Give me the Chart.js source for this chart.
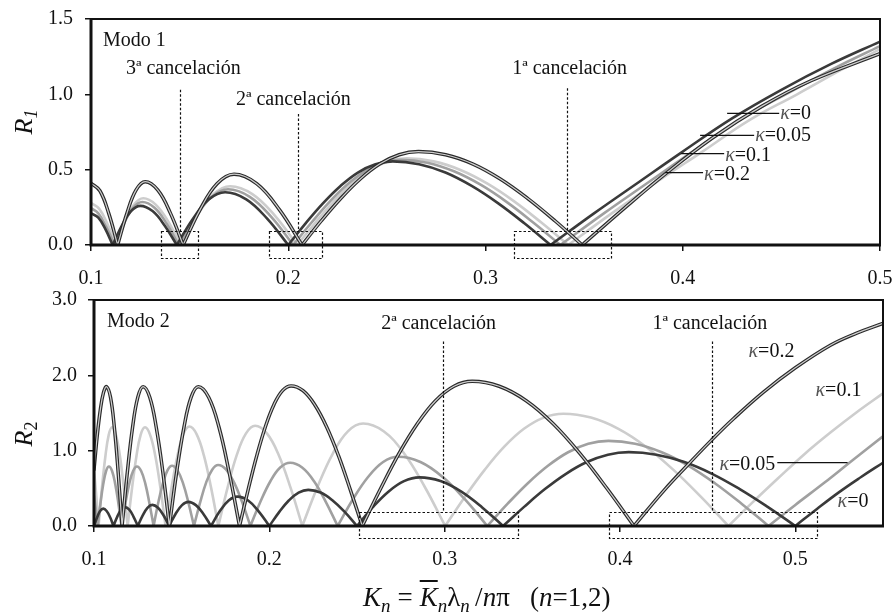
<!DOCTYPE html>
<html>
<head>
<meta charset="utf-8">
<script src="https://cdn.jsdelivr.net/npm/chart.js@4.4.0/dist/chart.umd.min.js"></script>
<style>
  body { margin: 0; background: #fff; }
  #wrap { position: relative; width: 893px; height: 614px; font-family: 'Liberation Serif', 'Times New Roman', serif; color: #111; }
  canvas { position: absolute; left: 0; }
  #c1 { top: 0; }
  #c2 { top: 280px; }
  .ytitle { position: absolute; width: 60px; height: 30px; line-height: 30px; text-align: center; font-size: 26px; transform: rotate(-90deg); white-space: nowrap; }
  .xtitle { position: absolute; left: 363px; top: 584px; font-size: 27px; line-height: 27px; white-space: nowrap; }
  .xtitle .eq { margin: 0 7px; }
  sub { font-size: 0.7em; vertical-align: -0.3em; line-height: 0; }
</style>
</head>
<body>
<div id="wrap">
  <canvas id="c1" width="893" height="300"></canvas>
  <canvas id="c2" width="893" height="334"></canvas>
  <div class="ytitle" style="left:-6px;top:107px"><i>R</i><sub><i>1</i></sub></div>
  <div class="ytitle" style="left:-6px;top:419px"><i>R</i><sub>2</sub></div>
  <div class="xtitle"><i>K</i><sub><i>n</i></sub><span class="eq">=</span><i style="text-decoration:overline">K</i><sub><i>n</i></sub>λ<sub><i>n</i></sub>&thinsp;/<i>n</i>π&nbsp;&nbsp;&nbsp;(<i>n</i>=1,2)</div>
</div>
<script>
// Modo 1: cada serie es una lista de lóbulos [K, R]
const modo1K0 = [
  [[0.1,0.21],[0.1037,0.182],[0.1073,0.105],[0.111,0]],
  [[0.111,0],[0.1157,0.13],[0.1203,0.225],[0.125,0.26],[0.1312,0.225],[0.1373,0.13],[0.1435,0]],
  [[0.1435,0],[0.1517,0.175],[0.1598,0.303],[0.168,0.35],[0.1787,0.303],[0.1893,0.175],[0.2,0]],
  [[0.2,0],[0.2088,0.144],[0.2177,0.278],[0.2265,0.392],[0.2353,0.481],[0.2442,0.536],[0.253,0.555],[0.2663,0.536],[0.2797,0.481],[0.293,0.392],[0.3063,0.278],[0.3197,0.144],[0.333,0]],
  [[0.333,0],[0.355,0.21],[0.378,0.42],[0.4,0.62],[0.425,0.84],[0.45,1.03],[0.475,1.2],[0.5,1.35]]
];
const modo1K005 = [
  [[0.1,0.245],[0.1037,0.21],[0.1077,0.12],[0.112,0]],
  [[0.112,0],[0.1167,0.143],[0.1213,0.247],[0.126,0.285],[0.1322,0.247],[0.1383,0.143],[0.1445,0]],
  [[0.1445,0],[0.1528,0.185],[0.1612,0.32],[0.1695,0.37],[0.1805,0.32],[0.1915,0.185],[0.2025,0]],
  [[0.2025,0],[0.2116,0.146],[0.2207,0.283],[0.2298,0.4],[0.2388,0.489],[0.2479,0.546],[0.257,0.565],[0.2705,0.546],[0.284,0.489],[0.2975,0.4],[0.311,0.283],[0.3245,0.146],[0.338,0]],
  [[0.338,0],[0.36,0.21],[0.383,0.42],[0.405,0.62],[0.43,0.84],[0.455,1.02],[0.478,1.18],[0.5,1.32]]
];
const modo1K01 = [
  [[0.1,0.28],[0.1042,0.24],[0.1083,0.14],[0.1125,0]],
  [[0.1125,0],[0.1172,0.155],[0.1218,0.268],[0.1265,0.31],[0.1328,0.268],[0.1392,0.155],[0.1455,0]],
  [[0.1455,0],[0.1538,0.195],[0.1622,0.338],[0.1705,0.39],[0.1818,0.338],[0.1932,0.195],[0.2045,0]],
  [[0.2045,0],[0.2138,0.149],[0.223,0.288],[0.2323,0.407],[0.2415,0.498],[0.2508,0.555],[0.26,0.575],[0.2737,0.555],[0.2873,0.498],[0.301,0.407],[0.3147,0.288],[0.3283,0.149],[0.342,0]],
  [[0.342,0],[0.364,0.21],[0.387,0.42],[0.41,0.62],[0.434,0.83],[0.458,1.0],[0.48,1.16],[0.5,1.3]]
];
const modo1K02 = [
  [[0.1,0.41],[0.1045,0.36],[0.109,0.21],[0.1135,0]],
  [[0.1135,0],[0.1182,0.21],[0.1228,0.364],[0.1275,0.42],[0.1339,0.364],[0.1403,0.21],[0.1467,0]],
  [[0.1467,0],[0.1553,0.235],[0.1639,0.407],[0.1725,0.47],[0.184,0.407],[0.1955,0.235],[0.207,0]],
  [[0.207,0],[0.2168,0.161],[0.2267,0.31],[0.2365,0.438],[0.2463,0.537],[0.2562,0.599],[0.266,0.62],[0.2798,0.599],[0.2937,0.537],[0.3075,0.438],[0.3213,0.31],[0.3352,0.161],[0.349,0]],
  [[0.349,0],[0.37,0.24],[0.391,0.47],[0.415,0.71],[0.44,0.92],[0.465,1.09],[0.5,1.27]]
];

// Modo 2
const modo2K0 = [
  [[0.1,0],[0.1018,0.115],[0.1035,0.2],[0.1053,0.23],[0.1072,0.2],[0.1092,0.115],[0.1111,0]],
  [[0.1111,0],[0.1133,0.125],[0.1155,0.217],[0.1176,0.25],[0.1201,0.217],[0.1225,0.125],[0.125,0]],
  [[0.125,0],[0.1278,0.14],[0.1305,0.242],[0.1333,0.28],[0.1365,0.242],[0.1397,0.14],[0.1429,0]],
  [[0.1429,0],[0.1465,0.16],[0.1502,0.277],[0.1538,0.32],[0.1581,0.277],[0.1624,0.16],[0.1667,0]],
  [[0.1667,0],[0.1717,0.195],[0.1768,0.338],[0.1818,0.39],[0.1879,0.338],[0.1939,0.195],[0.2,0]],
  [[0.2,0],[0.2056,0.184],[0.2111,0.339],[0.2167,0.444],[0.2222,0.48],[0.2292,0.444],[0.2361,0.339],[0.2431,0.184],[0.25,0]],
  [[0.25,0],[0.2589,0.247],[0.2679,0.456],[0.2768,0.596],[0.2857,0.645],[0.2976,0.596],[0.3095,0.456],[0.3214,0.247],[0.3333,0]],
  [[0.3333,0],[0.3453,0.254],[0.3572,0.49],[0.3692,0.693],[0.3811,0.849],[0.3931,0.947],[0.405,0.98],[0.4208,0.947],[0.4367,0.849],[0.4525,0.693],[0.4683,0.49],[0.4842,0.254],[0.5,0]],
  [[0.5,0],[0.5125,0.23],[0.525,0.45],[0.5375,0.65],[0.55,0.84]]
];
const modo2K005 = [
  [[0.1,0.4],[0.1011,0.21],[0.1021,0]],
  [[0.1021,0],[0.1037,0.302],[0.1053,0.559],[0.1069,0.73],[0.1085,0.79],[0.1103,0.73],[0.1121,0.559],[0.1139,0.302],[0.1157,0]],
  [[0.1157,0],[0.1179,0.302],[0.1201,0.559],[0.1223,0.73],[0.1245,0.79],[0.1269,0.73],[0.1293,0.559],[0.1316,0.302],[0.134,0]],
  [[0.134,0],[0.1366,0.306],[0.1393,0.566],[0.1419,0.739],[0.1445,0.8],[0.1476,0.739],[0.1508,0.566],[0.1539,0.306],[0.157,0]],
  [[0.157,0],[0.1605,0.31],[0.1639,0.573],[0.1674,0.748],[0.1708,0.81],[0.1754,0.748],[0.18,0.573],[0.1846,0.31],[0.1892,0]],
  [[0.1892,0],[0.1949,0.321],[0.2006,0.594],[0.2062,0.776],[0.2119,0.84],[0.2187,0.776],[0.2255,0.594],[0.2322,0.321],[0.239,0]],
  [[0.239,0],[0.2476,0.352],[0.2563,0.65],[0.2649,0.85],[0.2735,0.92],[0.2862,0.85],[0.2989,0.65],[0.3116,0.352],[0.3243,0]],
  [[0.3243,0],[0.3358,0.293],[0.3473,0.565],[0.3589,0.799],[0.3704,0.979],[0.3819,1.092],[0.3934,1.13],[0.4086,1.092],[0.4238,0.979],[0.4391,0.799],[0.4543,0.565],[0.4695,0.293],[0.4847,0]],
  [[0.4847,0],[0.5,0.28],[0.5163,0.57],[0.533,0.88],[0.55,1.19]]
];
const modo2K01 = [
  [[0.1,0.75],[0.1013,0.4],[0.1026,0]],
  [[0.1026,0],[0.1045,0.502],[0.1065,0.926],[0.1084,1.21],[0.1103,1.31],[0.1125,1.21],[0.1148,0.926],[0.117,0.502],[0.1192,0]],
  [[0.1192,0],[0.1217,0.502],[0.1242,0.926],[0.1266,1.21],[0.1291,1.31],[0.132,1.21],[0.135,0.926],[0.1379,0.502],[0.1408,0]],
  [[0.1408,0],[0.1442,0.506],[0.1476,0.933],[0.151,1.22],[0.1544,1.32],[0.1585,1.22],[0.1627,0.933],[0.1668,0.506],[0.1709,0]],
  [[0.1709,0],[0.1762,0.509],[0.1814,0.94],[0.1867,1.229],[0.1919,1.33],[0.1986,1.229],[0.2054,0.94],[0.2121,0.509],[0.2188,0]],
  [[0.2188,0],[0.2275,0.521],[0.2362,0.962],[0.2448,1.257],[0.2535,1.36],[0.2652,1.257],[0.2769,0.962],[0.2886,0.521],[0.3003,0]],
  [[0.3003,0],[0.3115,0.386],[0.3228,0.745],[0.334,1.053],[0.3452,1.29],[0.3565,1.439],[0.3677,1.49],[0.3834,1.439],[0.3991,1.29],[0.4148,1.053],[0.4305,0.745],[0.4462,0.386],[0.4619,0]],
  [[0.4619,0],[0.475,0.3],[0.49,0.63],[0.505,0.95],[0.52,1.24],[0.535,1.51],[0.55,1.76]]
];
const modo2K02 = [
  [[0.1,0.75],[0.1018,1.19],[0.1036,1.54],[0.1054,1.77],[0.1072,1.85],[0.1094,1.71],[0.1116,1.31],[0.1138,0.71],[0.116,0]],
  [[0.116,0],[0.119,0.71],[0.122,1.31],[0.125,1.71],[0.128,1.85],[0.1318,1.71],[0.1355,1.31],[0.1393,0.71],[0.143,0]],
  [[0.143,0],[0.1471,0.71],[0.1513,1.31],[0.1554,1.71],[0.1595,1.85],[0.1654,1.71],[0.1713,1.31],[0.1771,0.71],[0.183,0]],
  [[0.183,0],[0.1879,0.48],[0.1928,0.93],[0.1977,1.315],[0.2026,1.61],[0.2075,1.797],[0.2124,1.86],[0.2192,1.797],[0.2259,1.61],[0.2327,1.315],[0.2395,0.93],[0.2462,0.48],[0.253,0]],
  [[0.253,0],[0.2635,0.497],[0.2739,0.96],[0.2844,1.357],[0.2948,1.663],[0.3053,1.855],[0.3157,1.92],[0.3311,1.855],[0.3465,1.663],[0.3619,1.357],[0.3772,0.96],[0.3926,0.497],[0.408,0]],
  [[0.408,0],[0.425,0.47],[0.439,0.82],[0.4522,1.14],[0.465,1.43],[0.482,1.78],[0.5,2.1],[0.52,2.4],[0.535,2.56],[0.55,2.69]]
];

const kappas = ['0', '0.05', '0.1', '0.2'];
const xTicks = [0.1, 0.2, 0.3, 0.4, 0.5];
const yTicksModo1 = [0, 0.5, 1.0, 1.5];
const yTicksModo2 = [0, 1.0, 2.0, 3.0];

const FONT = "'Liberation Serif', 'Times New Roman', serif";
Chart.defaults.font.family = FONT;
Chart.defaults.font.size = 20;
Chart.defaults.color = '#111';

// los lóbulos se separan con un hueco para que los ceros queden en punta
function flat(lobes) {
  const out = [];
  lobes.forEach((lobe, i) => {
    if (i) out.push({ x: lobe[0][0], y: null });
    lobe.forEach(([x, y]) => out.push({ x, y }));
  });
  return out;
}

function seriesSets(k0, k005, k01, k02) {
  return [
    { label: 'κ=' + kappas[3], data: flat(k02), borderColor: '#cfcfcf', borderWidth: 1.2, order: 0 },
    { label: 'κ=' + kappas[3], data: flat(k02), borderColor: '#2a2a2a', borderWidth: 3.5, order: 1 },
    { label: 'κ=' + kappas[0], data: flat(k0), borderColor: '#3a3a3a', borderWidth: 2.6, order: 2 },
    { label: 'κ=' + kappas[1], data: flat(k005), borderColor: '#a0a0a0', borderWidth: 2.6, order: 3 },
    { label: 'κ=' + kappas[2], data: flat(k01), borderColor: '#cdcdcd', borderWidth: 2.6, order: 4 }
  ];
}

function axes(xMax, yMax, yTicks, yWidth, xHeight, xPad, yPad) {
  return {
    x: {
      type: 'linear', min: 0.1, max: xMax,
      afterBuildTicks: s => { s.ticks = xTicks.map(v => ({ value: v })); },
      afterFit: s => { s.height = xHeight; s.paddingLeft = 0; s.paddingRight = 0; },
      ticks: { padding: xPad, maxRotation: 0, autoSkip: false, callback: v => v.toFixed(1) },
      grid: { drawOnChartArea: false, tickLength: 6, color: '#111', lineWidth: 1.5 },
      border: { display: false }
    },
    y: {
      type: 'linear', min: 0, max: yMax,
      afterBuildTicks: s => { s.ticks = yTicks.map(v => ({ value: v })); },
      afterFit: s => { s.width = yWidth; s.paddingTop = 0; s.paddingBottom = 0; },
      ticks: { padding: yPad, callback: v => v.toFixed(1) },
      grid: { drawOnChartArea: false, tickLength: 6, color: '#111', lineWidth: 1.5 },
      border: { display: false }
    }
  };
}

// marco, guías punteadas, recuadros y rótulos de cada panel
function decor(cfg) {
  return {
    id: 'decor',
    afterDatasetsDraw(chart) {
      const { ctx, chartArea: a, scales: { x, y } } = chart;
      const px = v => x.getPixelForValue(v);
      const py = v => y.getPixelForValue(v);
      ctx.save();
      ctx.strokeStyle = '#111';
      ctx.lineWidth = 2;
      ctx.strokeRect(a.left, a.top, a.right - a.left, a.bottom - a.top);
      ctx.lineWidth = 3;
      ctx.beginPath();
      ctx.moveTo(a.left, a.top); ctx.lineTo(a.left, a.bottom); ctx.lineTo(a.right + 1, a.bottom);
      ctx.stroke();

      ctx.lineWidth = 1.2;
      ctx.setLineDash([2.5, 2]);
      cfg.guides.forEach(([k, r0, r1]) => {
        ctx.beginPath();
        ctx.moveTo(Math.round(px(k)) + 0.5, py(r0));
        ctx.lineTo(Math.round(px(k)) + 0.5, py(r1));
        ctx.stroke();
      });
      cfg.boxes.forEach(([k0, k1, r0, r1]) => {
        ctx.strokeRect(Math.round(px(k0)) + 0.5, Math.round(py(r0)) + 0.5,
          Math.round(px(k1) - px(k0)), Math.round(py(r1) - py(r0)));
      });
      ctx.setLineDash([]);

      ctx.fillStyle = '#111';
      ctx.font = '20px ' + FONT;
      cfg.notes.forEach(([t, k, r]) => ctx.fillText(t, px(k), py(r)));

      cfg.kappas.forEach(([v, k, r, lk, lr]) => {
        const x0 = px(k), y0 = py(r);
        ctx.font = 'italic 20px ' + FONT;
        ctx.fillStyle = '#555';
        ctx.fillText('κ', x0, y0);
        const w1 = ctx.measureText('κ').width;
        ctx.font = '20px ' + FONT;
        ctx.fillStyle = '#111';
        ctx.fillText('=' + v, x0 + w1, y0);
        const w = w1 + ctx.measureText('=' + v).width;
        if (lk !== undefined) {
          ctx.lineWidth = 1.3;
          ctx.beginPath();
          if (px(lk) < x0) { ctx.moveTo(px(lk), py(lr)); ctx.lineTo(x0 - 1, py(lr)); }
          else { ctx.moveTo(x0 + w + 2, py(lr)); ctx.lineTo(px(lk), py(lr)); }
          ctx.stroke();
        }
      });
      ctx.restore();
    }
  };
}

const common = {
  responsive: false,
  animation: false,
  events: [],
  elements: { point: { radius: 0 }, line: { tension: 0.4, borderCapStyle: 'round' } },
  plugins: { legend: { display: false }, tooltip: { enabled: false } }
};

new Chart(document.getElementById('c1'), {
  type: 'line',
  data: { datasets: seriesSets(modo1K0, modo1K005, modo1K01, modo1K02) },
  options: Object.assign({}, common, {
    layout: { padding: { left: 0, top: 19, right: 13, bottom: 0 } },
    scales: axes(0.5, 1.5, yTicksModo1, 91, 55, 16, 12)
  }),
  plugins: [decor({
    guides: [[0.1452, 1.03, 0.093], [0.205, 0.87, 0.093], [0.3414, 1.04, 0.093]],
    boxes: [[0.1355, 0.1543, 0.093, -0.087], [0.1903, 0.2172, 0.093, -0.087], [0.3145, 0.3637, 0.093, -0.087]],
    notes: [['Modo 1', 0.1061, 1.32], ['3ª cancelación', 0.1177, 1.133], ['2ª cancelación', 0.1735, 0.927], ['1ª cancelación', 0.3135, 1.133]],
    kappas: [
      [kappas[0], 0.4494, 0.833, 0.4225, 0.873],
      [kappas[1], 0.4367, 0.687, 0.4088, 0.727],
      [kappas[2], 0.4215, 0.56, 0.3992, 0.607],
      [kappas[3], 0.4108, 0.433, 0.3911, 0.48]
    ]
  })]
});

new Chart(document.getElementById('c2'), {
  type: 'line',
  data: { datasets: seriesSets(modo2K0, modo2K005, modo2K01, modo2K02) },
  options: Object.assign({}, common, {
    layout: { padding: { left: 0, top: 20, right: 10, bottom: 0 } },
    scales: axes(0.55, 3.0, yTicksModo2, 94, 88, 16, 11)
  }),
  plugins: [decor({
    guides: [[0.2993, 2.45, 0.187], [0.4522, 2.45, 0.187]],
    boxes: [[0.2513, 0.342, 0.187, -0.16], [0.394, 0.5127, 0.187, -0.16]],
    notes: [['Modo 2', 0.1074, 2.64], ['2ª cancelación', 0.2638, 2.613], ['1ª cancelación', 0.4185, 2.613]],
    kappas: [
      [kappas[3], 0.4733, 2.24],
      [kappas[2], 0.5115, 1.72],
      [kappas[1], 0.4567, 0.747, 0.5298, 0.84],
      [kappas[0], 0.5241, 0.253]
    ]
  })]
});
</script>
</body>
</html>
